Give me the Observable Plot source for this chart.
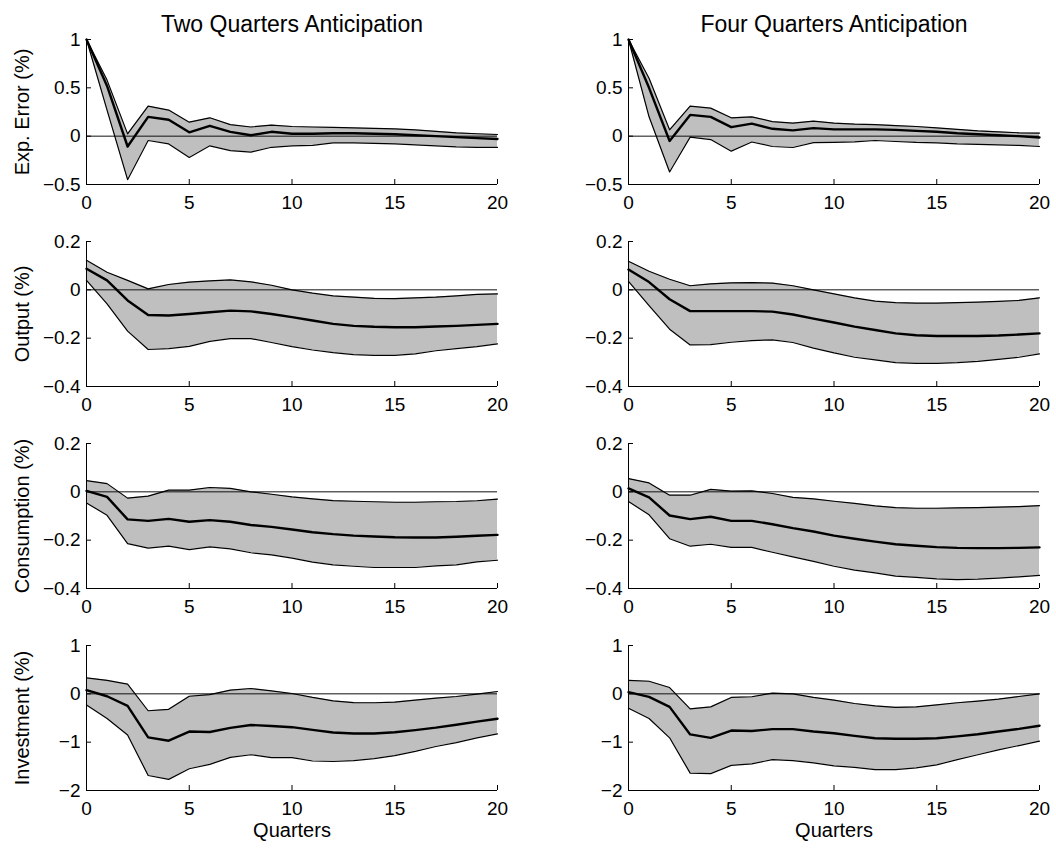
<!DOCTYPE html>
<html>
<head>
<meta charset="utf-8">
<script src="https://cdn.jsdelivr.net/npm/d3@7"></script>
<script src="https://cdn.jsdelivr.net/npm/@observablehq/plot@0.6"></script>
<style>
  html, body { margin: 0; padding: 0; background: #fff; }
  #wrap { position: relative; width: 1056px; height: 848px; overflow: hidden; font-family: "Liberation Sans", Arial, sans-serif; }
  .cell { position: absolute; }
</style>
</head>
<body>
<div id="wrap"></div>
<script>
// ---------- data ----------
const quarters = [0,1,2,3,4,5,6,7,8,9,10,11,12,13,14,15,16,17,18,19,20];
const xTicks = [0,5,10,15,20];
const colTitles = ["Two Quarters Anticipation", "Four Quarters Anticipation"];
const rowLabels = ["Exp. Error (%)", "Output (%)", "Consumption (%)", "Investment (%)"];
const xLabel = "Quarters";

const yTicksExp  = [-0.5, 0, 0.5, 1];
const yTicksOut  = [-0.4, -0.2, 0, 0.2];
const yTicksCons = [-0.4, -0.2, 0, 0.2];
const yTicksInv  = [-2, -1, 0, 1];

// Exp. Error, two quarters
const expTwoLo  = [1.0, 0.27, -0.45, -0.045, -0.08, -0.22, -0.10, -0.15, -0.165, -0.115, -0.10, -0.095, -0.07, -0.07, -0.075, -0.08, -0.09, -0.10, -0.11, -0.115, -0.115];
const expTwoMed = [1.0, 0.52, -0.107, 0.20, 0.17, 0.04, 0.107, 0.045, 0.01, 0.045, 0.025, 0.025, 0.03, 0.03, 0.025, 0.02, 0.01, 0.0, -0.01, -0.02, -0.03];
const expTwoHi  = [1.0, 0.58, 0.024, 0.31, 0.27, 0.145, 0.19, 0.12, 0.095, 0.115, 0.10, 0.095, 0.09, 0.085, 0.08, 0.075, 0.065, 0.05, 0.035, 0.025, 0.017];
// Exp. Error, four quarters
const expFourLo  = [1.0, 0.2, -0.37, -0.01, -0.035, -0.155, -0.06, -0.107, -0.117, -0.066, -0.065, -0.06, -0.045, -0.055, -0.065, -0.07, -0.08, -0.085, -0.09, -0.095, -0.107];
const expFourMed = [1.0, 0.5, -0.05, 0.22, 0.20, 0.093, 0.13, 0.076, 0.06, 0.083, 0.07, 0.07, 0.07, 0.065, 0.055, 0.045, 0.03, 0.02, 0.01, 0.0, -0.014];
const expFourHi  = [1.0, 0.6, 0.066, 0.31, 0.29, 0.19, 0.20, 0.15, 0.135, 0.155, 0.135, 0.125, 0.12, 0.11, 0.10, 0.085, 0.07, 0.055, 0.045, 0.035, 0.032];
// Output, two quarters
const outTwoLo  = [0.039, -0.058, -0.171, -0.247, -0.243, -0.234, -0.213, -0.202, -0.202, -0.218, -0.235, -0.249, -0.26, -0.268, -0.271, -0.271, -0.265, -0.252, -0.243, -0.235, -0.224];
const outTwoMed = [0.087, 0.039, -0.044, -0.104, -0.106, -0.10, -0.093, -0.086, -0.089, -0.10, -0.113, -0.127, -0.141, -0.149, -0.153, -0.155, -0.155, -0.152, -0.149, -0.145, -0.141];
const outTwoHi  = [0.122, 0.073, 0.039, 0.004, 0.022, 0.032, 0.037, 0.041, 0.033, 0.019, 0.0, -0.014, -0.025, -0.03, -0.035, -0.036, -0.033, -0.03, -0.025, -0.019, -0.017];
// Output, four quarters
const outFourLo  = [0.035, -0.065, -0.163, -0.228, -0.227, -0.217, -0.21, -0.207, -0.218, -0.241, -0.261, -0.279, -0.29, -0.301, -0.304, -0.304, -0.301, -0.296, -0.288, -0.279, -0.265];
const outFourMed = [0.084, 0.032, -0.039, -0.088, -0.088, -0.088, -0.088, -0.09, -0.102, -0.119, -0.135, -0.152, -0.166, -0.18, -0.188, -0.191, -0.191, -0.191, -0.189, -0.185, -0.18];
const outFourHi  = [0.118, 0.077, 0.044, 0.017, 0.025, 0.029, 0.030, 0.028, 0.017, 0.0, -0.017, -0.033, -0.047, -0.053, -0.055, -0.055, -0.053, -0.051, -0.048, -0.044, -0.033];
// Consumption, two quarters
const consTwoLo  = [-0.046, -0.097, -0.214, -0.233, -0.225, -0.239, -0.228, -0.236, -0.252, -0.261, -0.274, -0.291, -0.302, -0.308, -0.313, -0.313, -0.313, -0.306, -0.302, -0.29, -0.283];
const consTwoMed = [0.004, -0.021, -0.114, -0.12, -0.112, -0.124, -0.117, -0.124, -0.137, -0.145, -0.156, -0.167, -0.175, -0.181, -0.185, -0.188, -0.189, -0.189, -0.186, -0.182, -0.178];
const consTwoHi  = [0.046, 0.034, -0.026, -0.018, 0.007, 0.007, 0.018, 0.014, 0.0, -0.01, -0.021, -0.029, -0.036, -0.039, -0.041, -0.043, -0.043, -0.041, -0.04, -0.037, -0.03];
// Consumption, four quarters
const consFourLo  = [-0.04, -0.095, -0.194, -0.225, -0.217, -0.23, -0.23, -0.25, -0.269, -0.288, -0.308, -0.324, -0.335, -0.349, -0.354, -0.36, -0.363, -0.361, -0.357, -0.352, -0.346];
const consFourMed = [0.014, -0.023, -0.098, -0.113, -0.103, -0.12, -0.12, -0.134, -0.15, -0.164, -0.181, -0.194, -0.206, -0.217, -0.223, -0.229, -0.232, -0.233, -0.233, -0.232, -0.23];
const consFourHi  = [0.055, 0.037, -0.014, -0.014, 0.01, 0.003, 0.004, -0.007, -0.023, -0.029, -0.039, -0.048, -0.058, -0.065, -0.068, -0.068, -0.066, -0.065, -0.063, -0.061, -0.057];
// Investment, two quarters
const invTwoLo  = [-0.23, -0.51, -0.85, -1.69, -1.77, -1.55, -1.46, -1.315, -1.26, -1.32, -1.32, -1.39, -1.40, -1.38, -1.34, -1.28, -1.19, -1.09, -1.01, -0.91, -0.83];
const invTwoMed = [0.075, -0.05, -0.25, -0.90, -0.97, -0.78, -0.79, -0.705, -0.645, -0.665, -0.69, -0.745, -0.80, -0.82, -0.82, -0.795, -0.75, -0.70, -0.64, -0.575, -0.515];
const invTwoHi  = [0.33, 0.28, 0.2, -0.35, -0.32, -0.05, -0.015, 0.075, 0.11, 0.06, 0.007, -0.075, -0.145, -0.18, -0.185, -0.17, -0.13, -0.09, -0.055, -0.007, 0.048];
// Investment, four quarters
const invFourLo  = [-0.30, -0.51, -0.91, -1.64, -1.65, -1.48, -1.45, -1.36, -1.38, -1.43, -1.49, -1.52, -1.57, -1.57, -1.53, -1.47, -1.36, -1.26, -1.16, -1.07, -0.98];
const invFourMed = [0.034, -0.062, -0.27, -0.84, -0.91, -0.76, -0.77, -0.73, -0.73, -0.78, -0.815, -0.87, -0.92, -0.93, -0.93, -0.92, -0.88, -0.835, -0.78, -0.725, -0.66];
const invFourHi  = [0.28, 0.26, 0.13, -0.31, -0.27, -0.075, -0.06, 0.014, 0.0, -0.075, -0.13, -0.2, -0.25, -0.28, -0.27, -0.23, -0.185, -0.15, -0.11, -0.055, 0.0];

// ---------- panels ----------
const panels = [
  {row: 0, col: 0, lo: expTwoLo,  med: expTwoMed,  hi: expTwoHi,  ticks: yTicksExp},
  {row: 0, col: 1, lo: expFourLo, med: expFourMed, hi: expFourHi, ticks: yTicksExp},
  {row: 1, col: 0, lo: outTwoLo,  med: outTwoMed,  hi: outTwoHi,  ticks: yTicksOut},
  {row: 1, col: 1, lo: outFourLo, med: outFourMed, hi: outFourHi, ticks: yTicksOut},
  {row: 2, col: 0, lo: consTwoLo,  med: consTwoMed,  hi: consTwoHi,  ticks: yTicksCons},
  {row: 2, col: 1, lo: consFourLo, med: consFourMed, hi: consFourHi, ticks: yTicksCons},
  {row: 3, col: 0, lo: invTwoLo,  med: invTwoMed,  hi: invTwoHi,  ticks: yTicksInv},
  {row: 3, col: 1, lo: invFourLo, med: invFourMed, hi: invFourHi, ticks: yTicksInv}
];

const fmt = d3.format("~g");
const FONT = "Liberation Sans, Arial, Helvetica, sans-serif";
const wrap = document.getElementById("wrap");
const PLOT_H = 145;
const ROW_TOPS = [39, 241, 443, 645];
const COL_LEFT = [0, 528];
const COL_W = 528;
const COL_ML = [86, 100];
const COL_MR = [31, 17];

for (const p of panels) {
  const data = quarters.map((q, i) => ({q, lo: p.lo[i], med: p.med[i], hi: p.hi[i]}));
  const first = p.row === 0, last = p.row === 3;
  const mt = first ? 39 : 20;
  const mb = last ? 58 : 37;
  const height = PLOT_H + mt + mb;
  const marks = [
    Plot.areaY(data, {x: "q", y1: "lo", y2: "hi", fill: "#bfbfbf"}),
    Plot.ruleY([0], {stroke: "#111", strokeWidth: 1}),
    Plot.lineY(data, {x: "q", y: "lo", stroke: "#000", strokeWidth: 1.2}),
    Plot.lineY(data, {x: "q", y: "hi", stroke: "#000", strokeWidth: 1.2}),
    Plot.lineY(data, {x: "q", y: "med", stroke: "#000", strokeWidth: 2.4}),
    Plot.ruleX([quarters[0]], {stroke: "#000", strokeWidth: 1}),
    Plot.ruleY([p.ticks[0]], {stroke: "#000", strokeWidth: 1}),
    Plot.axisX({ticks: xTicks, tickSize: -5, tickPadding: 16, fontSize: 19, tickFormat: fmt, label: null}),
    Plot.axisY({ticks: p.ticks, tickSize: -5, tickPadding: 11, fontSize: 19, tickFormat: fmt, label: null})
  ];
  if (p.col === 0) {
    marks.push(Plot.text([rowLabels[p.row]], {frameAnchor: "left", textAnchor: "middle", dx: -64, rotate: -90, fontSize: 20, fill: "#000"}));
  }
  if (first) {
    marks.push(Plot.text([colTitles[p.col]], {frameAnchor: "top", dy: -24, fontSize: 23, fill: "#000"}));
  }
  if (last) {
    marks.push(Plot.text([xLabel], {frameAnchor: "bottom", dy: 46, fontSize: 20, fill: "#000"}));
  }
  const chart = Plot.plot({
    width: COL_W,
    height,
    marginTop: mt,
    marginBottom: mb,
    marginLeft: COL_ML[p.col],
    marginRight: COL_MR[p.col],
    x: {domain: [xTicks[0], xTicks[xTicks.length - 1]]},
    y: {domain: [p.ticks[0], p.ticks[p.ticks.length - 1]]},
    style: {fontFamily: FONT, background: "transparent", overflow: "visible", color: "#000"},
    marks
  });
  const cell = document.createElement("div");
  cell.className = "cell";
  cell.style.left = COL_LEFT[p.col] + "px";
  cell.style.top = (ROW_TOPS[p.row] - mt) + "px";
  cell.appendChild(chart);
  wrap.appendChild(cell);
}
</script>
</body>
</html>
